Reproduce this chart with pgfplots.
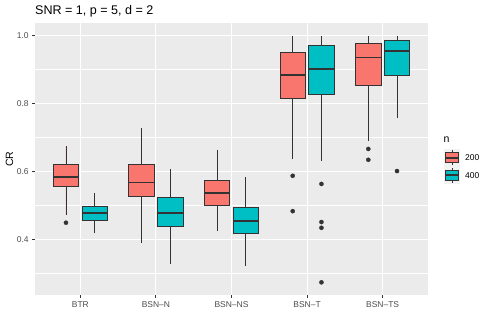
\documentclass[border=0pt]{standalone}
\usepackage{fontspec}
\setmainfont{Liberation Sans}
\usepackage{pgfplots}
\pgfplotsset{compat=1.18}
\usepgfplotslibrary{statistics}
\definecolor{c200}{HTML}{F8766D}
\definecolor{c400}{HTML}{00BFC4}
\definecolor{panel}{HTML}{EBEBEB}
\definecolor{g20}{HTML}{333333}
\definecolor{g30}{HTML}{4D4D4D}
\definecolor{keybg}{HTML}{F2F2F2}

\pgfplotsset{
  bx/.style={draw=g20, line width=0.9bp, mark=*, mark size=2.1bp,
    mark options={fill=g20, draw=g20, line width=0.3bp},
    boxplot/draw direction=y,
    boxplot/whisker extend=0,
    boxplot/every median/.style={line width=1.8bp}},
  b200/.style={bx, fill=c200},
  b400/.style={bx, fill=c400},
}

\begin{document}
\begin{tikzpicture}
\useasboundingbox (0,0) rectangle (491bp,327bp);
\begin{axis}[
  at={(35bp,32bp)}, anchor=south west,
  scale only axis, width=393bp, height=271.7bp,
  xmin=0.4, xmax=5.6, ymin=0.2374, ymax=1.0365,
  axis background/.style={fill=panel},
  axis line style={draw=none},
  xtick={1,2,3,4,5},
  xticklabels={BTR,BSN–N,BSN–NS,BSN–T,BSN–TS},
  ytick={0.4,0.6,0.8,1.0}, minor ytick={0.3,0.5,0.7,0.9},
  yticklabel style={/pgf/number format/.cd, fixed, fixed zerofill, precision=1},
  /pgf/number format/assume math mode=true,
  grid=both,
  major grid style={white, line width=1.1bp},
  minor grid style={white, line width=0.55bp},
  tick align=outside, tick pos=left,
  major tick length=2.8bp, minor tick length=0pt,
  tick style={g20, line width=0.9bp},
  ticklabel style={font=\fontsize{8.5}{9}\selectfont, text=g30},
  ylabel={CR},
  every axis y label/.style={at={(rel axis cs:0,0.5)}, rotate=90, anchor=center,
    yshift=25.5bp, font=\fontsize{10.6}{12}\selectfont},
  title={SNR = 1, p = 5, d = 2},
  every axis title/.style={at={(rel axis cs:0,1)}, anchor=base west, yshift=9bp,
    inner sep=0pt, font=\fontsize{12.6}{14}\selectfont},
]
% BTR
\addplot[b200, boxplot prepared={draw position=0.81, box extend=0.336,
  lower whisker=0.4726, lower quartile=0.558, median=0.5853, upper quartile=0.620, upper whisker=0.6756}]
  table[row sep=\\, header=false, y index=0] {0.450\\};
\addplot[b400, boxplot prepared={draw position=1.19, box extend=0.336,
  lower whisker=0.419, lower quartile=0.458, median=0.479, upper quartile=0.497, upper whisker=0.538}]
  coordinates {};
% BSN-N
\addplot[b200, boxplot prepared={draw position=1.81, box extend=0.336,
  lower whisker=0.391, lower quartile=0.5285, median=0.568, upper quartile=0.622, upper whisker=0.729}]
  coordinates {};
\addplot[b400, boxplot prepared={draw position=2.19, box extend=0.336,
  lower whisker=0.330, lower quartile=0.438, median=0.479, upper quartile=0.524, upper whisker=0.607}]
  coordinates {};
% BSN-NS
\addplot[b200, boxplot prepared={draw position=2.81, box extend=0.336,
  lower whisker=0.4265, lower quartile=0.502, median=0.5365, upper quartile=0.573, upper whisker=0.664}]
  coordinates {};
\addplot[b400, boxplot prepared={draw position=3.19, box extend=0.336,
  lower whisker=0.323, lower quartile=0.417, median=0.456, upper quartile=0.494, upper whisker=0.585}]
  coordinates {};
% BSN-T
\addplot[b200, boxplot prepared={draw position=3.81, box extend=0.336,
  lower whisker=0.6365, lower quartile=0.816, median=0.885, upper quartile=0.950, upper whisker=1.0}]
  table[row sep=\\, header=false, y index=0] {0.588\\0.484\\};
\addplot[b400, boxplot prepared={draw position=4.19, box extend=0.336,
  lower whisker=0.632, lower quartile=0.828, median=0.901, upper quartile=0.970, upper whisker=1.0}]
  table[row sep=\\, header=false, y index=0] {0.564\\0.452\\0.435\\0.2747\\};
% BSN-TS
\addplot[b200, boxplot prepared={draw position=4.81, box extend=0.336,
  lower whisker=0.689, lower quartile=0.855, median=0.936, upper quartile=0.9765, upper whisker=1.0}]
  table[row sep=\\, header=false, y index=0] {0.667\\0.635\\};
\addplot[b400, boxplot prepared={draw position=5.19, box extend=0.336,
  lower whisker=0.757, lower quartile=0.882, median=0.955, upper quartile=0.9865, upper whisker=1.0}]
  table[row sep=\\, header=false, y index=0] {0.602\\};
\end{axis}

% legend
\begin{scope}[x=1bp, y=1bp]
  \node[anchor=base west, inner sep=0pt, font=\fontsize{10.6}{12}\selectfont] at (443.5,185) {n};
  \fill[keybg] (443.7,143.4) rectangle (460.3,177.5);
  \draw[g20, line width=0.9bp] (452,161.5) -- (452,176.9);
  \draw[g20, line width=0.9bp, fill=c200] (445.6,164.2) rectangle (458.4,174.2);
  \draw[g20, line width=1.6bp] (445.6,169.2) -- (458.4,169.2);
  \draw[g20, line width=0.9bp] (452,144) -- (452,159.4);
  \draw[g20, line width=0.9bp, fill=c400] (445.6,146.7) rectangle (458.4,156.7);
  \draw[g20, line width=1.6bp] (445.6,151.7) -- (458.4,151.7);
  \node[anchor=west, inner sep=0pt, font=\fontsize{8.5}{9}\selectfont] at (465,169.2) {200};
  \node[anchor=west, inner sep=0pt, font=\fontsize{8.5}{9}\selectfont] at (465,151.7) {400};
\end{scope}
\end{tikzpicture}
\end{document}
